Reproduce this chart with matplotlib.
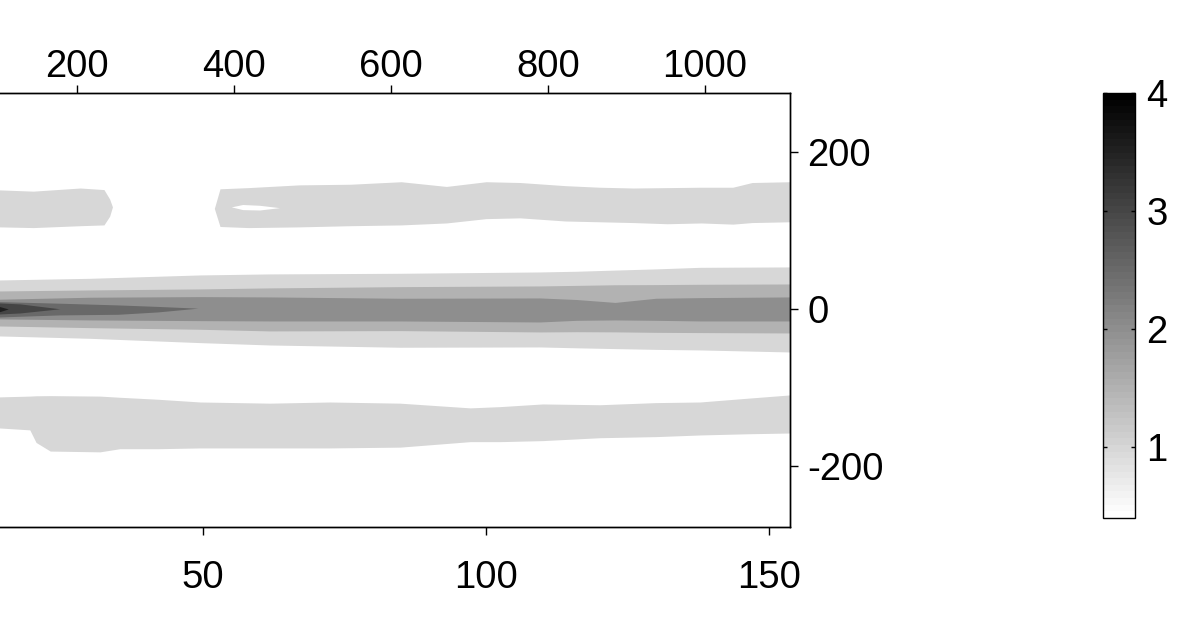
import numpy as np
import matplotlib
matplotlib.use("Agg")
import matplotlib.pyplot as plt
from matplotlib.colors import ListedColormap, Normalize
from matplotlib.cm import ScalarMappable

plt.rcParams['font.family'] = ['Liberation Sans', 'DejaVu Sans']
plt.rcParams['axes.unicode_minus'] = False

# colour scale and contour levels
levels = [1.0, 1.5, 2.0, 2.5, 3.0, 3.5]
clim = (0.4, 4.0)
cbar_ticks = [1, 2, 3, 4]

# axes
x_range = (0, 153.7)
y_range = (-277.7, 275)
top_per_bottom = 7.21          # top axis units per bottom axis unit
x_bot_ticks = [50, 100, 150]
x_top_ticks = [200, 400, 600, 800, 1000]
y_ticks = [-200, 0, 200]

# central band: edges of each level region
xc = [0, 14.1, 30, 49.5, 61.8, 84.8, 109.5, 116, 122.8, 130, 137.8, 153.7]
c1_top = [34, 36.9, 39, 43.3, 44.6, 45.4, 47.1, 48, 49.5, 51, 53, 53.5]
c1_bot = [-31, -34.4, -37.4, -42.9, -45.9, -48.8, -48.4, -49.5, -50.5, -51.5, -52.2, -54.8]
c15_top = [22, 22.9, 24.2, 25.5, 26.8, 28.4, 29.3, 30, 30.8, 31, 31.4, 31.8]
c15_bot = [-20.5, -21.7, -23.8, -25.9, -28, -27.6, -29.3, -29, -29.2, -29.8, -30.1, -30.6]
c2_top = [12, 12.4, 14.9, 15.7, 15.3, 13.6, 14, 12, 8.3, 13.6, 14.4, 15.3]
c2_bot = [-12, -12.7, -14, -14.9, -15.3, -15.3, -16.6, -14.5, -14, -14.5, -15.3, -15.3]

# dark wedge near the source
xw25 = [0, 14.1, 24.7, 35, 42, 49.1]
c25_top = [10.5, 9.3, 7.3, 5.1, 3.2, 1.0]
c25_bot = [-11.5, -10.2, -7.6, -6.8, -3.8, 1.0]
xw3 = [0, 14.1, 17.7, 24.7]
c3_top = [9, 7.6, 6.4, 0.2]
c3_bot = [-8, -6.4, -5.1, 0.2]
xw35 = [0, 14.1, 15.6]
c35_top = [5, 3, 0]
c35_bot = [-5, -3.4, 0]

# upper side band (level 1), two pieces
xu_a = [0, 14.1, 20, 28.3, 32.5, 33.5, 34]
ua_top = [150, 151.6, 150, 154, 152, 140, 130]
ua_bot = [104, 104.5, 103.6, 106, 107, 118, 130]
xu_b = [52.0, 53, 58, 67, 76, 85, 93, 100, 106, 114, 120, 126, 132, 138, 143.6, 147, 153.7]
ub_top = [128, 153, 154.5, 158, 158.8, 162, 156, 162, 161, 157, 155, 154, 154.5, 155, 155, 161, 162]
ub_bot = [128, 105, 103.6, 104.5, 106, 107, 109.5, 115, 116, 112, 111, 110, 108.5, 109.5, 108, 110, 111]
# white streak inside the upper band
xh = [55, 57, 60, 63.5]
h_top = [130, 133, 132, 129]
h_bot = [130, 126.5, 126, 129]

# lower side band (level 1)
xl = [0, 14.1, 19.4, 20.5, 23, 31.8, 35.3, 42, 49.5, 61.8, 72.4, 84.8, 97.2,
      102.5, 110, 120.1, 130, 137.8, 146, 153.7]
l_top = [-111, -112, -111, -110.6, -110.4, -111, -112.5, -115, -118.5, -120, -118.5,
         -120, -126, -124.4, -121, -122, -119.3, -118.5, -113.8, -109.5]
l_bot = [-150, -151.6, -154, -170, -181, -182, -178, -178, -177, -177, -177,
         -176, -169, -169, -167.7, -164, -162.6, -160.5, -159, -158]

cmap = ListedColormap([(g, g, g) for g in np.linspace(1, 0, 64)])
norm = Normalize(*clim)


def shade(lev):
    return cmap(norm(lev))


fig = plt.figure(figsize=(11.96, 6.19), dpi=100)
ax = fig.add_axes([-80 / 1196, 92 / 619, 870 / 1196, 434 / 619])
ax.set_xlim(*x_range)
ax.set_ylim(*y_range)

fill = dict(linewidth=0)
ax.fill_between(xl, l_bot, l_top, color=shade(levels[0]), **fill)
ax.fill_between(xu_a, ua_bot, ua_top, color=shade(levels[0]), **fill)
ax.fill_between(xu_b, ub_bot, ub_top, color=shade(levels[0]), **fill)
ax.fill_between(xh, h_bot, h_top, color='white', **fill)

ax.fill_between(xc, c1_bot, c1_top, color=shade(levels[0]), **fill)
ax.fill_between(xc, c15_bot, c15_top, color=shade(levels[1]), **fill)
ax.fill_between(xc, c2_bot, c2_top, color=shade(levels[2]), **fill)
ax.fill_between(xw25, c25_bot, c25_top, color=shade(levels[3]), **fill)
ax.fill_between(xw3, c3_bot, c3_top, color=shade(levels[4]), **fill)
ax.fill_between(xw35, c35_bot, c35_top, color=shade(levels[5]), **fill)

ax.set_xticks(x_bot_ticks)
ax.set_yticks(y_ticks)
ax.yaxis.tick_right()
ax.tick_params(axis='x', direction='out', length=5.8, width=1, labelsize=27.5, pad=18)
ax.tick_params(axis='y', direction='out', length=5.8, width=1, labelsize=27.5, pad=6.5)
for s in ax.spines.values():
    s.set_linewidth(1)

ax2 = ax.twiny()
ax2.set_xlim(x_range[0] * top_per_bottom, x_range[1] * top_per_bottom)
ax2.set_xticks(x_top_ticks)
ax2.tick_params(axis='x', direction='out', length=5.8, width=1, labelsize=27.5, pad=0)
for s in ax2.spines.values():
    s.set_linewidth(1)

cax = fig.add_axes([1103 / 1196, 101 / 619, 32 / 1196, 425 / 619])
cb = fig.colorbar(ScalarMappable(norm=norm, cmap=cmap), cax=cax, ticks=cbar_ticks)
cb.ax.tick_params(direction='in', length=3, width=1, left=True, right=True,
                  labelsize=27.5, pad=8)
cb.outline.set_linewidth(1)

fig.savefig("out.png", dpi=100, facecolor='white')
